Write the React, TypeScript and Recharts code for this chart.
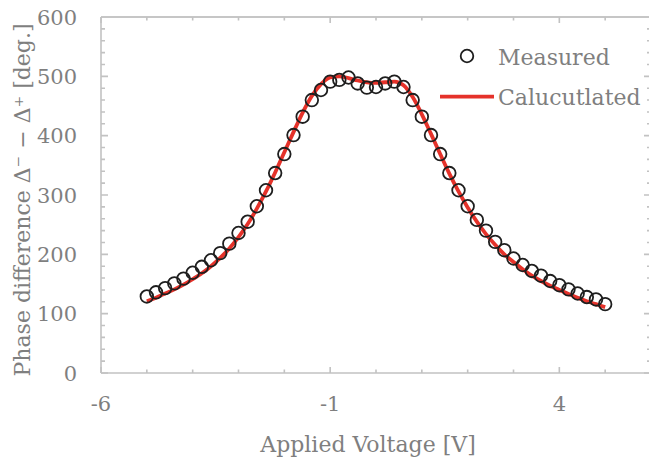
import { ComposedChart, Scatter, Line, XAxis, YAxis, Legend, ReferenceLine } from "recharts";

// 측정 전압 (V), 0.2 V 간격
const VOLTAGE = [
  -5.0, -4.8, -4.6, -4.4, -4.2, -4.0, -3.8, -3.6, -3.4, -3.2, -3.0, -2.8, -2.6,
  -2.4, -2.2, -2.0, -1.8, -1.6, -1.4, -1.2, -1.0, -0.8, -0.6, -0.4, -0.2, 0.0,
  0.2, 0.4, 0.6, 0.8, 1.0, 1.2, 1.4, 1.6, 1.8, 2.0, 2.2, 2.4, 2.6, 2.8, 3.0,
  3.2, 3.4, 3.6, 3.8, 4.0, 4.2, 4.4, 4.6, 4.8, 5.0,
];

const MEASURED = [
  129, 136, 143, 151, 159, 169, 179, 190, 202, 218, 236, 255, 281,
  308, 337, 369, 401, 432, 460, 477, 491, 494, 498, 488, 481, 482,
  488, 491, 482, 460, 432, 401, 369, 337, 308, 281, 258, 240, 221, 207, 193,
  182, 172, 164, 155, 148, 141, 134, 128, 124, 116,
];

const CALCULATED = [
  121, 127, 134, 141, 149, 158, 168, 180, 194, 210, 229, 251, 277,
  306, 338, 372, 406, 439, 467, 487, 498, 500, 497, 493, 490, 489,
  490, 491, 485, 465, 436, 403, 369, 336, 306, 279, 255, 234, 216, 200, 187,
  175, 164, 155, 147, 140, 133, 127, 121, 116, 111,
];

const X_TICKS = [-6, -5, -4, -3, -2, -1, 0, 1, 2, 3, 4, 5, 6];
const X_LABELS = [-6, -1, 4];
const Y_TICKS = [
  0, 20, 40, 60, 80, 100, 120, 140, 160, 180, 200, 220, 240, 260, 280, 300,
  320, 340, 360, 380, 400, 420, 440, 460, 480, 500, 520, 540, 560, 580, 600,
];
const Y_LABELS = [0, 100, 200, 300, 400, 500, 600];

const measuredData = VOLTAGE.map((x, i) => ({ x, y: MEASURED[i] }));
const calcData = VOLTAGE.map((x, i) => ({ x, y: CALCULATED[i] }));

const AXIS = "#c2c2c2";
const TEXT = "#7f7f7f";
const RED = "#e5322a";
const FONT = "'DejaVu Serif', serif";

// 차트 배치: 오른쪽 테두리는 원본처럼 화면 밖(651px)에 놓는다
const CHART_W = 651;
const CHART_H = 459;
const MARGIN = { top: 17, right: 0, bottom: 0, left: 0 };
const Y_AXIS_W = 101;
const X_AXIS_H = 86;
const PLOT_W = CHART_W - MARGIN.left - MARGIN.right - Y_AXIS_W;
const PLOT_H = CHART_H - MARGIN.top - MARGIN.bottom - X_AXIS_H;

const tickStyle = { stroke: AXIS, strokeWidth: 1.6, fill: "none" };

// 아래 눈금 + 위쪽 테두리의 거울 눈금
function BottomTick({ x, y, payload }: any) {
  const major = X_LABELS.includes(Number(payload.value));
  const len = major ? 6 : 3.5;
  const top = y - PLOT_H;
  return (
    <g>
      <path d={`M${x},${y}V${y - len}M${x},${top}V${top + len}`} style={tickStyle} />
      {major && (
        <text x={x} y={y + 38} textAnchor="middle" fill={TEXT} fontSize={21} fontFamily={FONT}>
          {payload.value}
        </text>
      )}
    </g>
  );
}

// 왼쪽 눈금 + 오른쪽 거울 눈금, 맨 위 값에서 위쪽 테두리선
function LeftTick({ x, y, payload }: any) {
  const value = Number(payload.value);
  const major = Y_LABELS.includes(value);
  const len = major ? 7 : 4;
  const right = x + PLOT_W;
  const border = value === 600 ? `M${x},${y}H${right}` : "";
  return (
    <g>
      <path d={`M${x},${y}H${x + len}M${right},${y}H${right - len}${border}`} style={tickStyle} />
      {major && (
        <text x={x - 24} y={y + 7.5} textAnchor="end" fill={TEXT} fontSize={21} fontFamily={FONT}>
          {payload.value}
        </text>
      )}
    </g>
  );
}

function Ring({ cx, cy }: any) {
  return <circle cx={cx} cy={cy} r={6.3} fill="none" stroke="#1e1e1e" strokeWidth={1.8} />;
}

function LegendBox() {
  return (
    <svg width={219} height={72}>
      <circle cx={37} cy={16} r={6.3} fill="none" stroke="#1e1e1e" strokeWidth={1.8} />
      <text x={68} y={24.5} fill={TEXT} fontSize={22} fontFamily={FONT}>
        Measured
      </text>
      <line x1={10} x2={64} y1={56.7} y2={56.7} stroke={RED} strokeWidth={3.8} />
      <text x={68} y={64.5} fill={TEXT} fontSize={22} fontFamily={FONT}>
        Calucutlated
      </text>
    </svg>
  );
}

export default function App() {
  return (
    <div
      style={{
        position: "absolute",
        left: 0,
        top: 0,
        width: 649,
        height: 459,
        overflow: "hidden",
        background: "#fff",
      }}
    >
      <ComposedChart width={CHART_W} height={CHART_H} margin={MARGIN}>
        <XAxis
          dataKey="x"
          type="number"
          domain={[-6, 6]}
          ticks={X_TICKS}
          interval={0}
          height={X_AXIS_H}
          tickSize={0}
          tickMargin={0}
          tickLine={false}
          axisLine={{ stroke: AXIS, strokeWidth: 1.6 }}
          tick={<BottomTick />}
          label={{
            value: "Applied Voltage [V]",
            position: "insideBottom",
            offset: 7,
            dx: -8,
            fill: TEXT,
            fontSize: 22,
            fontFamily: FONT,
          }}
        />
        <YAxis
          type="number"
          domain={[0, 600]}
          ticks={Y_TICKS}
          interval={0}
          width={Y_AXIS_W}
          tickSize={0}
          tickMargin={0}
          tickLine={false}
          axisLine={{ stroke: AXIS, strokeWidth: 1.6 }}
          tick={<LeftTick />}
          label={{
            value: "Phase difference Δ⁻ − Δ⁺ [deg.]",
            angle: -90,
            position: "insideLeft",
            offset: 0,
            dx: 22,
            dy: 5,
            fill: TEXT,
            fontSize: 22,
            fontFamily: FONT,
            textAnchor: "middle",
          }}
        />
        <Legend
          layout="horizontal"
          verticalAlign="middle"
          align="center"
          content={<LegendBox />}
          wrapperStyle={{ position: "absolute", left: 430, top: 40, width: 219, height: 72 }}
        />
        {/* 위쪽 테두리 (눈금 쪽 선과 같은 자리) */}
        <ReferenceLine y={600} stroke={AXIS} strokeWidth={1.6} ifOverflow="visible" />
        <Scatter
          name="Measured"
          data={measuredData}
          dataKey="y"
          shape={<Ring />}
          isAnimationActive={false}
        />
        <Line
          name="Calucutlated"
          data={calcData}
          dataKey="y"
          type="monotone"
          stroke={RED}
          strokeWidth={3.8}
          dot={false}
          activeDot={false}
          isAnimationActive={false}
        />
      </ComposedChart>
    </div>
  );
}
